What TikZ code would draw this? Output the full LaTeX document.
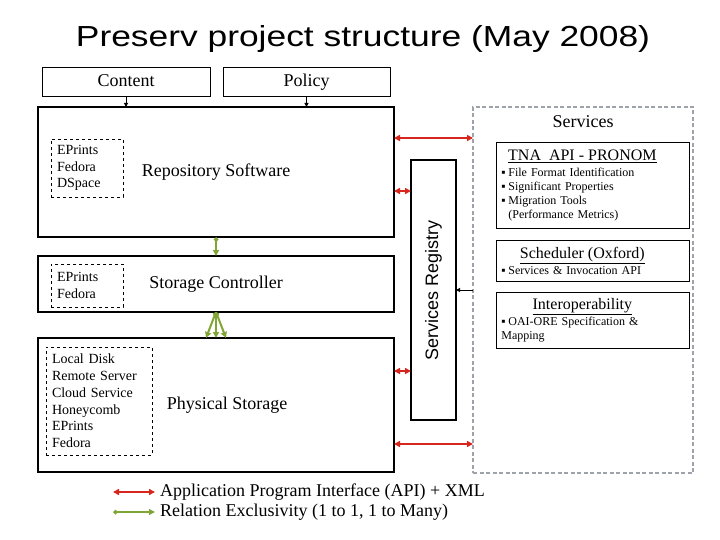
\documentclass[tikz,border=0pt]{standalone}
\usepackage{fontspec}
\setmainfont{Liberation Serif}
\newfontfamily\arialfont{Liberation Sans}
\usepackage{xcolor}
\usepackage{tikz}
\usetikzlibrary{arrows.meta,positioning}
\definecolor{APIRed}{HTML}{D7261E}
\definecolor{RelGreen}{HTML}{80A535}
\definecolor{SvcGrey}{HTML}{9DA3A8}
\newcommand\svcitem[1]{\makebox[7pt][l]{▪}#1}
\newcommand\svchead[1]{{\fontsize{16}{18}\selectfont\makebox[162pt]{\underline{#1}}\par}\vspace{2pt}}

\begin{document}
\begin{tikzpicture}[x=1pt,y=-1pt,
  topbox/.style={draw,line width=0.8pt,outer sep=0pt,minimum width=168pt,minimum height=29pt,
    text height=14pt,text depth=3pt,font=\fontsize{18}{20}\selectfont},
  layer/.style={draw,line width=2.4pt,outer sep=0pt,minimum width=356pt,font=\fontsize{18}{20}\selectfont},
  listbox/.style={draw,dashed,line width=0.7pt,inner xsep=6pt,inner ysep=2pt,align=left,
    font=\fontsize{14}{16.8}\selectfont},
  svcbox/.style={draw,line width=0.8pt,anchor=north west,text width=183pt,inner xsep=5pt,inner ysep=2pt,
    align=left,font=\fontsize{12}{14}\selectfont},
  legtext/.style={anchor=west,inner xsep=5pt,font=\fontsize{18}{20}\selectfont},
  apiarrow/.style={{Triangle[length=6pt,width=6pt]}-{Triangle[length=6pt,width=6pt]},line width=2pt,color=APIRed},
  relarrow/.style={{Diamond[length=5pt,width=5pt]}-{Triangle[length=6pt,width=6pt]},line width=2pt,color=RelGreen},
  feed/.style={-{Triangle[length=4pt,width=4pt]},line width=1pt}
]
  \useasboundingbox (0,0) rectangle (720,540);
  \node[font=\arialfont\fontsize{29}{34}\selectfont,anchor=base] (title) at (363,47)
    {\scalebox{1.22}[1]{Preserv project structure (May 2008)}};
  \node[topbox] (content) at (126,81.5) {Content};
  \node[topbox,minimum width=167pt,right=13pt of content] (policy) {Policy};

  \node[layer,minimum height=130pt] (repo) at (216,172) {Repository Software};
  \node[layer,minimum height=56pt,below=19pt of repo] (storage) {Storage Controller};
  \node[layer,minimum height=134pt,below=26pt of storage,
    label={[font=\fontsize{18}{20}\selectfont,xshift=11pt]center:Physical Storage}] (physical) {};
  \node[listbox,text width=60pt,minimum height=58pt] (repolist) at (87,168) {EPrints\\Fedora\\DSpace};
  \node[listbox,text width=60pt,minimum height=43pt] (ctrllist) at (87,285.5) {EPrints\\Fedora};
  \node[listbox,text width=94pt,minimum height=108pt] (physlist) at (99,401)
    {Local Disk\\Remote Server\\Cloud Service\\Honeycomb\\EPrints\\Fedora};

  \node[draw,line width=2.4pt,outer sep=0pt,minimum width=45pt,minimum height=260pt,
    label={[rotate=90,font=\arialfont\fontsize{18}{20}\selectfont]center:Services Registry}] (registry) at (433.5,290) {};

  \node[draw=SvcGrey,dashed,dash pattern=on 4pt off 2.5pt,line width=2pt,outer sep=0pt,
    minimum width=220pt,minimum height=366pt] (services) at (583,290) {};
  \node[font=\fontsize{18}{20}\selectfont,below=5pt of services.north] (svclabel) {Services};
  \node[svcbox,minimum height=86pt] (tna) at (496,142) {\svchead{TNA\ \ API - PRONOM}
    \svcitem{File Format Identification}\\ \svcitem{Significant Properties}\\ \svcitem{Migration Tools}\\
    \hspace*{7pt}(Performance Metrics)};
  \node[svcbox,minimum height=41pt] (sched) at (496,240) {\svchead{Scheduler (Oxford)}
    \svcitem{Services \& Invocation API}};
  \node[svcbox,minimum height=56pt] (interop) at (496,292) {\svchead{Interoperability}
    \svcitem{OAI-ORE Specification \&}\\ Mapping};

  \coordinate (apiA) at ([yshift=-31pt]repo.north east);
  \coordinate (regA) at ([yshift=-84pt]repo.north east);
  \coordinate (regB) at ([yshift=-33pt]physical.north east);
  \coordinate (apiB) at ([yshift=-106pt]physical.north east);
  \draw[feed] (content) -- (content |- repo.north);
  \draw[feed] (policy) -- (policy |- repo.north);
  \draw[apiarrow] (apiA) -- (apiA -| services.west);
  \draw[apiarrow] (regA) -- (regA -| registry.west);
  \draw[apiarrow] (regB) -- (regB -| registry.west);
  \draw[apiarrow] (apiB) -- (apiB -| services.west);
  \draw[feed] (services.west) -- (registry.east);
  \draw[relarrow] (repo.south) -- (storage.north);
  \foreach \dx in {-10,0,10}
    \draw[relarrow] (storage.south) -- ([xshift=\dx pt]physical.north);

  \coordinate (apikey) at (113,492);
  \coordinate (relkey) at (113,512);
  \node[legtext] (apitext) at (155,492) {Application Program Interface (API) + XML};
  \node[legtext] (reltext) at (155,512) {Relation Exclusivity (1 to 1, 1 to Many)};
  \draw[apiarrow] (apikey) -- (apitext.west);
  \draw[relarrow] (relkey) -- (reltext.west);
\end{tikzpicture}
\end{document}
